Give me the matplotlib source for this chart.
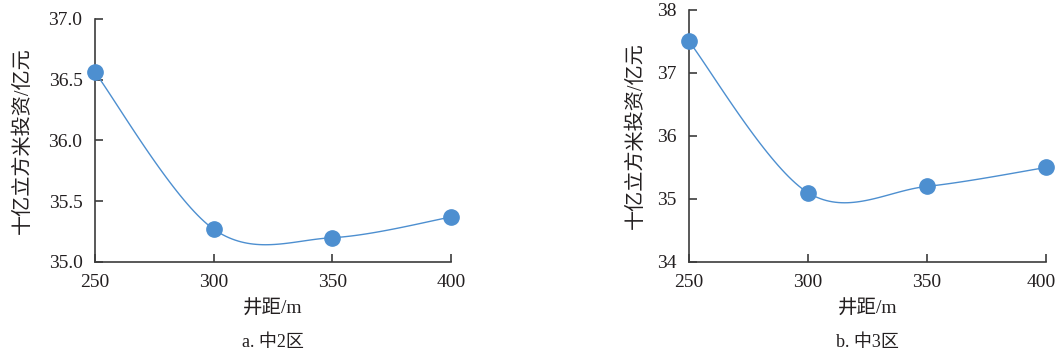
import numpy as np
import matplotlib
matplotlib.use("Agg")
import matplotlib.pyplot as plt
from matplotlib.transforms import ScaledTranslation

plt.rcParams['font.family'] = ['Liberation Serif', 'Noto Sans CJK SC']

spacing = [250, 300, 350, 400]
cost_zone2 = [36.56, 35.27, 35.20, 35.37]
cost_zone3 = [37.5, 35.1, 35.2, 35.5]

ylabel = '十亿立方米投资/亿元'
xlabel = '井距/m'
captions = ['a. 中2区', 'b. 中3区']

blue = '#4d8fd0'
axis_gray = '#3c3c3c'
text_col = '#231f20'


def smooth(x, y, n=40):
    # Excel-like smoothed line: cubic Bezier with Catmull-Rom control points
    x = np.asarray(x, float)
    y = np.asarray(y, float)
    px = np.concatenate([[x[0]], x, [x[-1]]])
    py = np.concatenate([[y[0]], y, [y[-1]]])
    xs, ys = [], []
    t = np.linspace(0, 1, n)
    for i in range(1, len(px) - 2):
        p0 = np.array([px[i], py[i]])
        p3 = np.array([px[i + 1], py[i + 1]])
        c1 = p0 + (np.array([px[i + 1], py[i + 1]]) - np.array([px[i - 1], py[i - 1]])) / 6
        c2 = p3 - (np.array([px[i + 2], py[i + 2]]) - np.array([px[i], py[i]])) / 6
        b = ((1 - t) ** 3)[:, None] * p0 + (3 * (1 - t) ** 2 * t)[:, None] * c1 \
            + (3 * (1 - t) * t ** 2)[:, None] * c2 + (t ** 3)[:, None] * p3
        xs.extend(b[:, 0])
        ys.extend(b[:, 1])
    return xs, ys


def draw(ax, values, ylim, yticks, yfmt, ypad):
    sx, sy = smooth(spacing, values)
    ax.plot(sx, sy, color=blue, lw=1.0, zorder=2)
    ax.plot(spacing, values, 'o', color=blue, ms=11, zorder=3, clip_on=False)
    ax.set_xlim(250, 400)
    ax.set_ylim(*ylim)
    ax.set_xticks(spacing)
    ax.set_yticks(yticks)
    ax.set_yticklabels([yfmt.format(v) for v in yticks])
    for s in ['top', 'right']:
        ax.spines[s].set_visible(False)
    for s in ['left', 'bottom']:
        ax.spines[s].set_color(axis_gray)
        ax.spines[s].set_linewidth(1.2)
    ax.tick_params(direction='in', length=6, width=1.2, color=axis_gray,
                   labelsize=14, labelcolor=text_col, pad=9)
    ax.set_xlabel(xlabel, fontsize=14, color=text_col, labelpad=6)
    ax.set_ylabel(ylabel, fontsize=14.5, color=text_col, labelpad=ypad)


fig = plt.figure(figsize=(10.56, 3.53), dpi=100)
ax1 = fig.add_axes([0.0900, 0.2578, 0.3371, 0.6884])
ax2 = fig.add_axes([0.6525, 0.2578, 0.3380, 0.7139])

draw(ax1, cost_zone2, (35.0, 37.0), [35.0, 35.5, 36.0, 36.5, 37.0], '{:.1f}', 11)
draw(ax2, cost_zone3, (34, 38), [34, 35, 36, 37, 38], '{:.0f}', 8)

# last tick label on the right panel sits a bit left so it stays inside the figure
last = ax2.get_xticklabels()[-1]
last.set_transform(last.get_transform() + ScaledTranslation(-0.05, 0, fig.dpi_scale_trans))

for ax, cap in zip([ax1, ax2], captions):
    pos = ax.get_position()
    fig.text((pos.x0 + pos.x1) / 2, 1 - 343 / 353, cap, ha='center', va='center',
             fontsize=13, color=text_col)

fig.savefig('out.png', dpi=100)
